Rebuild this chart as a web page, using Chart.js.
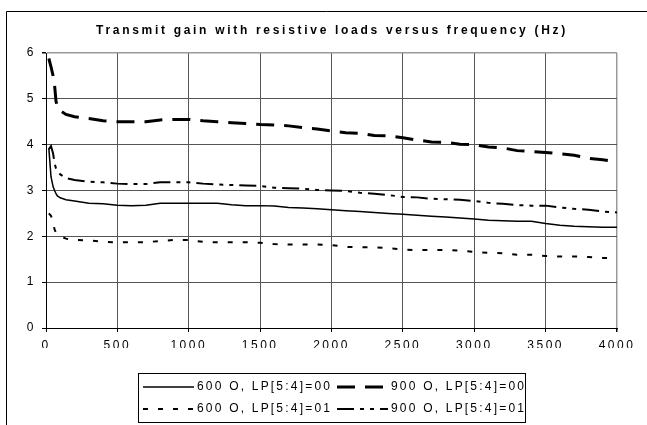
<!DOCTYPE html>
<html>
<head>
<meta charset="utf-8">
<script src="https://cdn.jsdelivr.net/npm/chart.js@4/dist/chart.umd.min.js"></script>
<style>
  html, body { margin: 0; padding: 0; background: #fff; }
  #wrap { position: relative; width: 647px; height: 425px; }
</style>
</head>
<body>
<div id="wrap"><canvas id="myChart" width="647" height="425"></canvas></div>
<script>
// frecuencias (Hz) comunes a las cuatro curvas
var frecuencias = [20, 35, 50, 60, 70, 80, 100, 140, 200, 300, 400, 500, 600, 700, 800, 900, 1000,
  1100, 1200, 1300, 1400, 1500, 1600, 1700, 1800, 1900, 2000, 2100, 2200, 2300, 2400, 2500,
  2600, 2700, 2800, 2900, 3000, 3100, 3200, 3300, 3400, 3500, 3600, 3700, 3800, 3900, 4000];

var ganancia600_00 = [3.92, 3.3, 3.08, 3.0, 2.93, 2.88, 2.84, 2.8, 2.77, 2.72, 2.71, 2.68, 2.67, 2.68, 2.72, 2.72, 2.72,
  2.72, 2.72, 2.69, 2.67, 2.67, 2.66, 2.63, 2.62, 2.6, 2.58, 2.56, 2.54, 2.52, 2.5, 2.48,
  2.46, 2.44, 2.42, 2.4, 2.38, 2.35, 2.34, 2.33, 2.33, 2.28, 2.24, 2.22, 2.21, 2.2, 2.2];

var ganancia900_00 = [5.88, 5.7, 5.5, 5.3, 4.95, 4.82, 4.74, 4.66, 4.61, 4.57, 4.52, 4.5, 4.5, 4.5, 4.54, 4.55, 4.55,
  4.52, 4.5, 4.48, 4.46, 4.44, 4.43, 4.41, 4.37, 4.34, 4.3, 4.26, 4.25, 4.2, 4.19, 4.15,
  4.1, 4.06, 4.05, 4.01, 4.0, 3.95, 3.93, 3.87, 3.85, 3.83, 3.8, 3.77, 3.7, 3.67, 3.63];

var ganancia600_01 = [2.5, 2.45, 2.3, 2.15, 2.08, 2.03, 2.0, 1.95, 1.92, 1.91, 1.88, 1.87, 1.87, 1.87, 1.9, 1.92, 1.92,
  1.88, 1.87, 1.87, 1.87, 1.86, 1.83, 1.82, 1.82, 1.82, 1.81, 1.77, 1.76, 1.76, 1.74, 1.71,
  1.7, 1.7, 1.7, 1.69, 1.66, 1.64, 1.63, 1.6, 1.6, 1.57, 1.56, 1.56, 1.55, 1.53, 1.53];

var ganancia900_01 = [3.9, 3.97, 3.8, 3.6, 3.48, 3.42, 3.35, 3.27, 3.23, 3.19, 3.18, 3.15, 3.14, 3.14, 3.18, 3.18, 3.18,
  3.15, 3.13, 3.12, 3.11, 3.1, 3.06, 3.05, 3.04, 3.01, 3.0, 2.99, 2.95, 2.93, 2.9, 2.86,
  2.85, 2.82, 2.81, 2.8, 2.77, 2.73, 2.71, 2.68, 2.67, 2.67, 2.63, 2.6, 2.58, 2.54, 2.52];

var nombres = ['600 O, LP[5:4]=00', '900 O, LP[5:4]=00', '600 O, LP[5:4]=01', '900 O, LP[5:4]=01'];
var titulo = 'Transmit gain with resistive loads versus frequency (Hz)';

function puntos(valores) {
  return frecuencias.map(function (f, i) { return { x: f, y: valores[i] }; });
}

var fuente = 'Liberation Sans, Arial, sans-serif';
Chart.defaults.font.family = fuente;
Chart.defaults.color = '#000';

// titulo, marco exterior y leyenda dibujados a mano (estilo Excel)
var decoracion = {
  id: 'decoracion',
  beforeDraw: function (chart) {
    var ctx = chart.ctx;
    ctx.save();
    ctx.fillStyle = '#fff';
    ctx.fillRect(0, 0, chart.width, chart.height);
    ctx.strokeStyle = '#000';
    ctx.lineWidth = 1;
    ctx.beginPath();
    ctx.moveTo(6.5, chart.height);
    ctx.lineTo(6.5, 11.5);
    ctx.lineTo(chart.width, 11.5);
    ctx.stroke();
    ctx.restore();
    ctx.letterSpacing = '2.5px';
  },
  afterDraw: function (chart) {
    var ctx = chart.ctx;
    ctx.save();
    ctx.fillStyle = '#000';
    ctx.font = 'bold 12px ' + fuente;
    ctx.letterSpacing = '2.7px';
    ctx.textAlign = 'center';
    ctx.textBaseline = 'middle';
    ctx.fillText(titulo, 332, 31);

    // leyenda 2x2
    ctx.strokeStyle = '#000';
    ctx.lineWidth = 1;
    ctx.strokeRect(138.5, 373.5, 387, 49);
    var colX = [143, 337];
    var filaY = [387, 409];
    ctx.font = '12px ' + fuente;
    ctx.letterSpacing = '2.2px';
    ctx.textAlign = 'left';
    chart.data.datasets.forEach(function (ds, i) {
      var x0 = colX[i % 2];
      var y0 = filaY[Math.floor(i / 2)];
      ctx.save();
      ctx.lineWidth = ds.borderWidth;
      ctx.setLineDash(ds.borderDash || []);
      ctx.beginPath();
      ctx.moveTo(x0, y0);
      ctx.lineTo(x0 + 51, y0);
      ctx.stroke();
      ctx.restore();
      ctx.fillText(ds.label, x0 + 54, y0);
    });
    ctx.restore();
  }
};

var ctx = document.getElementById('myChart').getContext('2d');
var myChart = new Chart(ctx, {
  type: 'scatter',
  data: {
    datasets: [
      { label: nombres[0], data: puntos(ganancia600_00), borderColor: '#000', borderWidth: 1.5, borderDash: [] },
      { label: nombres[1], data: puntos(ganancia900_00), borderColor: '#000', borderWidth: 3, borderDash: [18, 10] },
      { label: nombres[2], data: puntos(ganancia600_01), borderColor: '#000', borderWidth: 2, borderDash: [5, 10] },
      { label: nombres[3], data: puntos(ganancia900_01), borderColor: '#000', borderWidth: 2, borderDash: [17, 6, 4, 6, 4, 6] }
    ]
  },
  options: {
    responsive: false,
    animation: false,
    showLine: true,
    elements: {
      point: { radius: 0, hoverRadius: 0 },
      line: { tension: 0, fill: false }
    },
    layout: { padding: { left: 0, top: 53, right: 30, bottom: 77 } },
    plugins: {
      legend: { display: false },
      title: { display: false },
      tooltip: { enabled: false }
    },
    scales: {
      x: {
        type: 'linear',
        min: 0,
        max: 4000,
        ticks: {
          stepSize: 500, color: '#000', font: { size: 12 }, padding: 6, maxRotation: 0,
          callback: function (v) { return String(v); }
        },
        grid: {
          color: function (c) { return c.tick && c.tick.value === 4000 ? '#999' : '#555'; },
          lineWidth: function (c) { return c.tick && c.tick.value === 4000 ? 1.5 : 1; },
          tickLength: 4,
          tickColor: '#000'
        },
        border: { color: '#000', width: 1 },
        afterFit: function (s) { s.height = 20; }
      },
      y: {
        min: 0,
        max: 6,
        ticks: {
          stepSize: 1, color: '#000', font: { size: 12 }, padding: 6,
          callback: function (v) { return String(v); }
        },
        grid: {
          color: function (c) { return c.tick && c.tick.value === 6 ? '#999' : '#555'; },
          lineWidth: function (c) { return c.tick && c.tick.value === 6 ? 1.5 : 1; },
          tickLength: 4,
          tickColor: '#000'
        },
        border: { color: '#000', width: 1 },
        afterFit: function (s) { s.width = 46; }
      }
    }
  },
  plugins: [decoracion]
});
</script>
</body>
</html>
